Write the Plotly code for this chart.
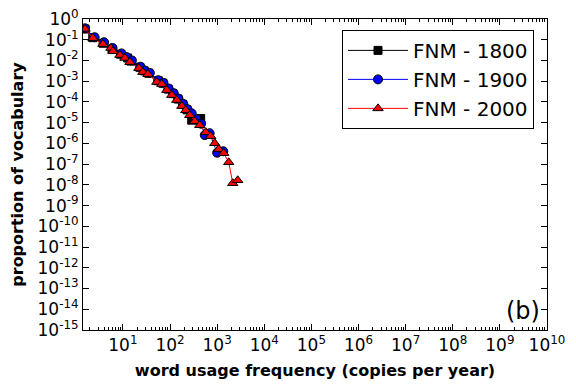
import plotly.graph_objects as go

# word usage frequency (copies per year) vs proportion of vocabulary
freq_1800 = [1.57, 2.29, 3.80, 5.89, 8.91, 12.6, 14.8, 22.9, 28.2, 35.5, 56.2, 70.8,
             91.2, 115, 148, 186, 229, 288, 447]
prop_1800 = [0.331, 0.126, 0.0676, 0.0355, 0.0200, 0.0132, 0.00933, 0.00468, 0.00316,
             0.00240, 0.00105, 0.000794, 0.000417, 0.000251, 0.000138, 7.59e-5,
             4.17e-5, 1.32e-5, 1.58e-5]

freq_1900 = [1.57, 2.51, 3.98, 6.03, 9.33, 12.0, 15.5, 23.4, 28.8, 37.2, 56.2, 72.4,
             93.3, 120, 151, 191, 234, 288, 363, 457, 546, 692, 1000, 1349]
prop_1900 = [0.355, 0.132, 0.0759, 0.0398, 0.0219, 0.0145, 0.0100, 0.00501, 0.00331,
             0.00251, 0.00112, 0.000832, 0.000447, 0.000263, 0.000145, 7.94e-5,
             4.47e-5, 2.82e-5, 1.41e-5, 8.91e-6, 2.51e-6, 3.09e-6, 3.55e-7, 4.17e-7]

freq_2000 = [1.57, 2.31, 3.77, 5.57, 6.14, 8.63, 11.0, 14.1, 21.8, 26.5, 33.9, 52.5,
             67.0, 85.5, 109, 139, 178, 216, 262, 335, 428, 573, 731, 889, 1081,
             1380, 1762, 2143, 2729]
prop_2000 = [0.331, 0.120, 0.0617, 0.0398, 0.0282, 0.0182, 0.0132, 0.00832, 0.00427,
             0.00275, 0.00219, 0.000912, 0.000724, 0.000372, 0.000214, 0.000123,
             6.31e-5, 3.98e-5, 2.29e-5, 1.17e-5, 7.59e-6, 3.47e-6, 2.24e-6, 1.02e-6,
             5.25e-7, 3.39e-7, 1.23e-7, 1.20e-8, 1.66e-8]

x_ticks = [10 ** k for k in range(1, 11)]
x_labels = ["10<sup>%d</sup>" % k for k in range(1, 11)]
y_ticks = [10.0 ** -k for k in range(0, 16)]
y_labels = ["10<sup>%d</sup>" % (-k if k else 0) for k in range(0, 16)]

FONT = "DejaVu Sans"

fig = go.Figure()
fig.add_trace(go.Scatter(
    x=freq_1800, y=prop_1800, mode="lines+markers", name="FNM - 1800",
    line=dict(color="black", width=1),
    marker=dict(symbol="square", size=8, color="black", line=dict(color="black", width=1)),
))
fig.add_trace(go.Scatter(
    x=freq_1900, y=prop_1900, mode="lines+markers", name="FNM - 1900",
    line=dict(color="blue", width=1),
    marker=dict(symbol="circle", size=9, color="blue", line=dict(color="black", width=1)),
))
fig.add_trace(go.Scatter(
    x=freq_2000, y=prop_2000, mode="lines+markers", name="FNM - 2000",
    line=dict(color="red", width=1),
    marker=dict(symbol="triangle-up", size=9, color="red", line=dict(color="black", width=1)),
))

fig.add_annotation(
    text="(b)", x=0.99, y=0.01, xref="paper", yref="paper",
    xanchor="right", yanchor="bottom", showarrow=False,
    font=dict(family=FONT, size=24, color="black"),
)

axis_common = dict(
    type="log", showgrid=False, zeroline=False, showline=True, linecolor="black",
    linewidth=1, mirror="ticks", ticks="inside", ticklen=6, tickcolor="black",
    tickfont=dict(family=FONT, size=17, color="black"), automargin=False,
    ticklabeloverflow="allow",
)

fig.update_xaxes(
    **axis_common, range=[0.153, 10], tickvals=x_ticks, ticktext=x_labels,
    minor=dict(ticks="inside", ticklen=3, tickcolor="black", dtick="D1"),
    title=dict(text="<b>word usage frequency (copies per year)</b>",
               font=dict(family=FONT, size=16, color="black"), standoff=10),
)
fig.update_yaxes(
    **axis_common, range=[-15, 0], tickvals=y_ticks, ticktext=y_labels,
    title=dict(text="<b>proportion of vocabulary</b>",
               font=dict(family=FONT, size=16, color="black"), standoff=14),
)

# the page body has an 8px margin, so the figure is 8px smaller than the window
fig.update_layout(
    width=568, height=383,
    margin=dict(l=75, r=29, t=11, b=61),
    plot_bgcolor="white", paper_bgcolor="white",
    font=dict(family=FONT, color="black"),
    legend=dict(
        x=0.972, y=0.965, xanchor="right", yanchor="top",
        bordercolor="black", borderwidth=1, bgcolor="white",
        font=dict(family=FONT, size=20, color="black"),
        tracegroupgap=0, itemwidth=60,
    ),
)

fig.write_html("out.html")
